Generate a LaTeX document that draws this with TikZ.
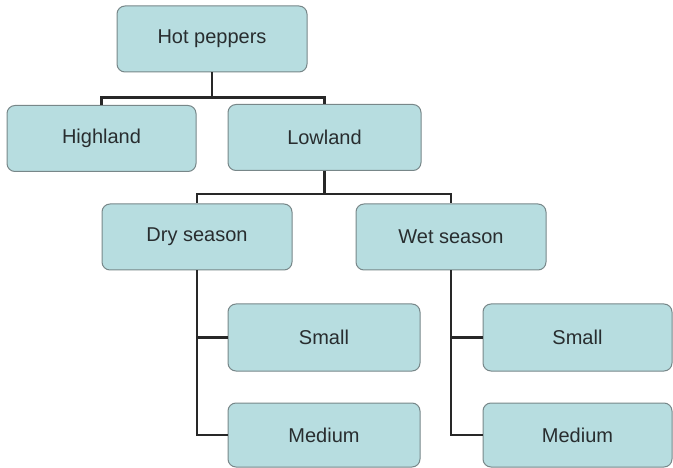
\documentclass[tikz,border=0pt]{standalone}
\usepackage{fontspec}
\setmainfont{Liberation Sans}
\definecolor{boxfill}{RGB}{183,221,224}
\definecolor{boxline}{RGB}{120,135,137}
\definecolor{txt}{RGB}{40,45,47}
\definecolor{conn}{RGB}{40,40,40}
\begin{document}
\begin{tikzpicture}[x=1pt,y=-1pt,
  box/.style={draw=boxline,line width=1pt,fill=boxfill,rounded corners=8pt,
    minimum width=#1,minimum height=66pt,inner sep=0pt,text=txt,
    font=\fontsize{20}{22}\selectfont},
  box/.default=190pt,
  conn/.style={draw=conn,line width=2.2pt}]
\useasboundingbox (0,0) rectangle (673,468);
\node[box=190pt] (hot) at (212,39) {Hot peppers};
\node[box=189pt] (high) at (101.5,138.5) {Highland};
\node[box=193pt] (low) at (324.5,137.5) {Lowland};
\node[box=190pt] (dry) at (197,237) {Dry season};
\node[box=190pt] (wet) at (451,237) {Wet season};
\node[box=192pt,minimum height=67pt] (sl) at (324,337.5) {Small};
\node[box=192pt,minimum height=64pt] (ml) at (324,435) {Medium};
\node[box=189pt,minimum height=67pt] (sr) at (577.5,337.5) {Small};
\node[box=189pt,minimum height=64pt] (mr) at (577.5,435) {Medium};
\draw[conn] (hot.south) -- ++(0,25) -| (high.north);
\draw[conn] (hot.south) ++(0,25) -| (low.north);
\draw[conn] (low.south) -- ++(0,23) -| (dry.north);
\draw[conn] (low.south) ++(0,23) -| (wet.north);
\draw[conn] (dry.south) |- (sl.west);
\draw[conn] (dry.south) |- (ml.west);
\draw[conn] (wet.south) |- (sr.west);
\draw[conn] (wet.south) |- (mr.west);
\end{tikzpicture}
\end{document}
